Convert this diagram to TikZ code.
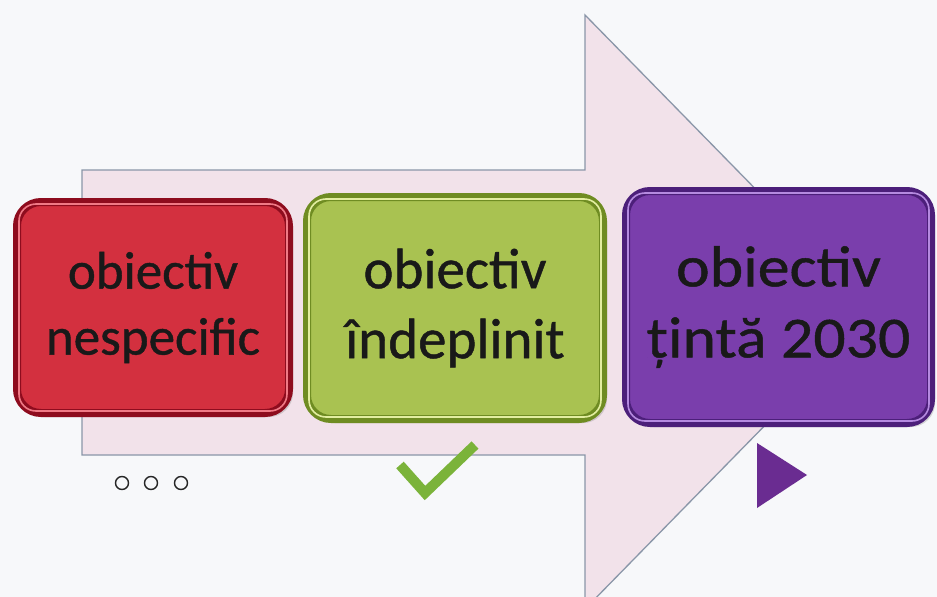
\documentclass[tikz,border=0pt]{standalone}
\usepackage{fontspec}
\setmainfont[FakeBold=0.8]{Carlito}
\newfontfamily\boxfont[FakeBold=0.8]{Carlito}
\newfontfamily\widefont[FakeStretch=1.1,FakeBold=0.8]{Carlito}
\usetikzlibrary{shadows}
\definecolor{bg}{HTML}{F7F8FA}
\definecolor{arrowfill}{HTML}{F2E2EA}
\definecolor{arrowedge}{HTML}{8A96A8}
\definecolor{redmain}{HTML}{D3303F}
\definecolor{reddark}{HTML}{8E0C1E}
\definecolor{redlight}{HTML}{F07A86}
\definecolor{greenmain}{HTML}{A9C251}
\definecolor{greendark}{HTML}{6F8C22}
\definecolor{greenlight}{HTML}{E2EEA0}
\definecolor{purplemain}{HTML}{7A3EAC}
\definecolor{purpledark}{HTML}{4C1F7A}
\definecolor{purplelight}{HTML}{B58AE0}
\definecolor{checkgreen}{HTML}{7BB33A}
\definecolor{triviolet}{HTML}{6A2C91}
\tikzset{
  objbox/.style 2 args={draw=#1, fill=#2, line width=8pt, rounded corners=24pt,
    align=center, text=black!90, inner sep=0pt,
    drop shadow={shadow xshift=4pt, shadow yshift=-4pt, opacity=0.3}},
  hilite/.style={draw=#1, line width=1.6pt, rounded corners=17pt},
  bigarrow/.style={fill=arrowfill, draw=arrowedge, line width=1.3pt, line join=miter},
  dotring/.style={circle, draw=black!85, line width=1.4pt, minimum size=13pt, inner sep=0pt},
}
\begin{document}
\begin{tikzpicture}[x=1pt,y=-1pt]
\useasboundingbox (0,0) rectangle (937,597);
\fill[bg] (0,0) rectangle (937,597);
\begin{scope}
\clip (0,0) rectangle (937,597);
\draw[bigarrow] (82,170) -- (585,170) -- (585,15) -- (876,312) -- (585,609)
  -- (585,455) -- (82,455) -- cycle;
\end{scope}

\node[objbox={reddark}{redmain}, minimum width=272pt, minimum height=211pt,
  font=\boxfont\fontsize{53}{66}\selectfont]
  (r) at (153,307.5) {obiectiv\\nespecific};
\draw[hilite=redlight] ([shift={(6,6)}]r.north west) rectangle ([shift={(-6,-6)}]r.south east);

\node[objbox={greendark}{greenmain}, minimum width=296pt, minimum height=222pt,
  font=\boxfont\fontsize{57}{70}\selectfont]
  (g) at (455,308) {obiectiv\\îndeplinit};
\draw[hilite=greenlight] ([shift={(6,6)}]g.north west) rectangle ([shift={(-6,-6)}]g.south east);

\node[objbox={purpledark}{purplemain}, minimum width=305pt, minimum height=232pt,
  font=\widefont\fontsize{58}{71}\selectfont]
  (p) at (778.5,307) {obiectiv\\țintă 2030};
\draw[hilite=purplelight] ([shift={(6,6)}]p.north west) rectangle ([shift={(-6,-6)}]p.south east);

\node[dotring] (c1) at (122,483) {};
\node[dotring] (c2) at (151,483) {};
\node[dotring] (c3) at (181,483) {};

\coordinate (k1) at (400,465);
\coordinate (k2) at (425,493);
\coordinate (k3) at (475,445);
\draw[checkgreen, line width=10pt, line join=miter] (k1) -- (k2) -- (k3);

\coordinate (t1) at (757,443);
\coordinate (t2) at (757,508);
\coordinate (t3) at (807,475);
\fill[triviolet] (t1) -- (t3) -- (t2) -- cycle;
\end{tikzpicture}
\end{document}
